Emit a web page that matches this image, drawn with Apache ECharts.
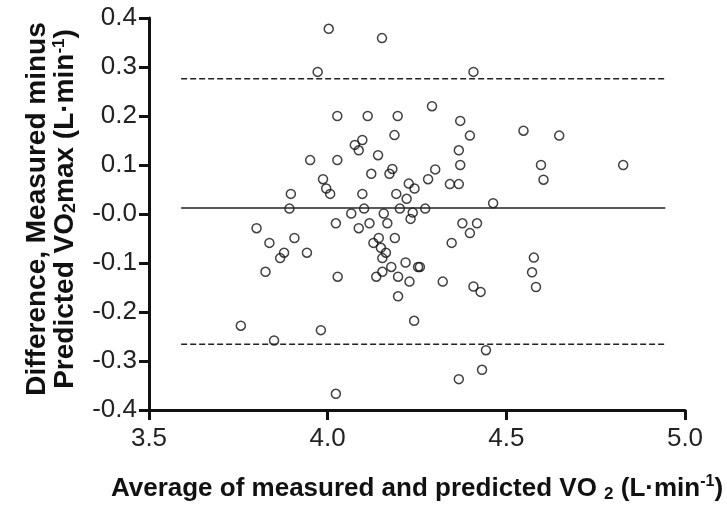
<!DOCTYPE html>
<html>
<head>
<meta charset="utf-8">
<script src="https://cdn.jsdelivr.net/npm/echarts@6/dist/echarts.min.js"></script>
<style>html,body{margin:0;padding:0;background:#fff}#c{width:727px;height:508px}</style>
</head>
<body>
<div id="c"></div>
<script>
// Average of measured and predicted VO2 (x) and difference (y)
const avgValues = [
  4.003, 4.152, 3.972, 4.027, 4.112, 4.196, 4.292, 4.076, 4.097, 4.087,
  4.187, 3.951, 4.027, 4.141, 4.122, 4.173, 4.181, 4.301, 4.281, 3.987,
  3.996, 4.007, 3.897, 4.097, 4.192, 4.227, 4.243, 4.221, 3.893, 4.102,
  4.202, 4.273, 4.066, 4.157, 4.238, 4.232, 4.023, 4.117, 4.167, 4.087,
  3.801, 3.837, 3.907, 3.878, 3.867, 3.942, 3.826, 4.028, 4.143, 4.188,
  4.128, 4.149, 4.163, 4.153, 4.218, 4.178, 4.153, 4.136, 4.197, 4.229,
  4.197, 4.253, 4.258, 4.242, 3.757, 3.850, 3.981, 4.023, 4.463, 4.377,
  4.418, 4.398, 4.347, 4.322, 4.408, 4.428, 4.577, 4.572, 4.583, 4.443,
  4.432, 4.367, 4.408, 4.371, 4.398, 4.367, 4.371, 4.342, 4.367, 4.548,
  4.648, 4.597, 4.604, 4.827
];
const diffValues = [
  0.378, 0.359, 0.290, 0.200, 0.200, 0.200, 0.220, 0.141, 0.151, 0.130,
  0.161, 0.110, 0.110, 0.120, 0.082, 0.082, 0.092, 0.091, 0.071, 0.071,
  0.052, 0.041, 0.041, 0.041, 0.041, 0.062, 0.052, 0.031, 0.011, 0.011,
  0.011, 0.011, 0.001, 0.001, 0.003, -0.010, -0.019, -0.019, -0.019, -0.029,
  -0.029, -0.059, -0.049, -0.079, -0.090, -0.079, -0.118, -0.128, -0.049, -0.049,
  -0.059, -0.069, -0.079, -0.090, -0.099, -0.108, -0.118, -0.128, -0.128, -0.138,
  -0.168, -0.108, -0.108, -0.218, -0.228, -0.258, -0.237, -0.367, 0.022, -0.019,
  -0.019, -0.039, -0.059, -0.138, -0.148, -0.159, -0.089, -0.119, -0.149, -0.278,
  -0.318, -0.337, 0.290, 0.190, 0.160, 0.130, 0.100, 0.061, 0.061, 0.170,
  0.160, 0.100, 0.070, 0.100
];
// Bias and limits of agreement
const meanDiff = 0.012;
const upperLoA = 0.276;
const lowerLoA = -0.266;
const refLineX = [3.59, 4.945];
const xTicks = [3.5, 4.0, 4.5, 5.0];
const yTicks = [-0.4, -0.3, -0.2, -0.1, 0.0, 0.1, 0.2, 0.3, 0.4];

const FONT = "'Liberation Sans', Arial, sans-serif";
const points = avgValues.map((x, i) => [x, diffValues[i]]);
const hLine = (y) => refLineX.map(x => [x, y]);

function rich(size, lh) {
  return {
    t: { fontFamily: FONT, fontSize: size, fontWeight: 'bold', color: '#111', lineHeight: lh },
    sub: { fontFamily: FONT, fontSize: Math.round(size * 0.64), fontWeight: 'bold', color: '#111',
           lineHeight: Math.round(size * 0.64), verticalAlign: 'bottom' },
    sup: { fontFamily: FONT, fontSize: Math.round(size * 0.6), fontWeight: 'bold', color: '#111',
           lineHeight: Math.round(size * 0.6), verticalAlign: 'top' }
  };
}

const chart = echarts.init(document.getElementById('c'), null, { renderer: 'canvas' });
chart.setOption({
  animation: false,
  backgroundColor: '#fff',
  grid: { left: 149, right: 42, top: 18, bottom: 97, containLabel: false },
  xAxis: {
    type: 'value',
    min: xTicks[0], max: xTicks[xTicks.length - 1], interval: 0.5,
    name: '{t|Average of measured and predicted VO }{sub|2}{t| (L·min}{sup|-1}{t|)}',
    nameLocation: 'middle', nameGap: 64,
    nameTextStyle: { rich: rich(26, 29) },
    axisLine: { onZero: false, lineStyle: { color: '#111', width: 3 } },
    axisTick: { inside: false, length: 10, lineStyle: { color: '#111', width: 3 } },
    axisLabel: { fontFamily: FONT, fontSize: 26, color: '#222', margin: 16,
      formatter: v => v.toFixed(1) },
    splitLine: { show: false }
  },
  yAxis: {
    type: 'value',
    min: yTicks[0], max: yTicks[yTicks.length - 1], interval: 0.1,
    name: '{t|Difference, Measured minus}\n{t|Predicted VO}{sub|2}{t|max (L·min}{sup|-1}{t|)}',
    nameLocation: 'middle', nameRotate: 90, nameGap: 70,
    nameTextStyle: { rich: rich(28, 28), padding: [0, 0, 0, 10] },
    axisLine: { onZero: false, lineStyle: { color: '#111', width: 3 } },
    axisTick: { inside: false, length: 10, lineStyle: { color: '#111', width: 3 } },
    axisLabel: { fontFamily: FONT, fontSize: 26, color: '#222', margin: 12,
      formatter: v => (Math.abs(v) < 1e-9 ? '-0.0' : v.toFixed(1)) },
    splitLine: { show: false }
  },
  series: [
    { type: 'line', data: hLine(meanDiff), symbol: 'none', silent: true,
      lineStyle: { color: '#222', width: 1.5 } },
    { type: 'line', data: hLine(upperLoA), symbol: 'none', silent: true,
      lineStyle: { color: '#222', width: 1.5, type: [6, 3] } },
    { type: 'line', data: hLine(lowerLoA), symbol: 'none', silent: true,
      lineStyle: { color: '#222', width: 1.5, type: [6, 3] } },
    { type: 'scatter', data: points, symbol: 'circle', symbolSize: 9,
      itemStyle: { color: 'rgba(0,0,0,0)', borderColor: '#111', borderWidth: 1.5 } }
  ]
});
</script>
</body>
</html>
